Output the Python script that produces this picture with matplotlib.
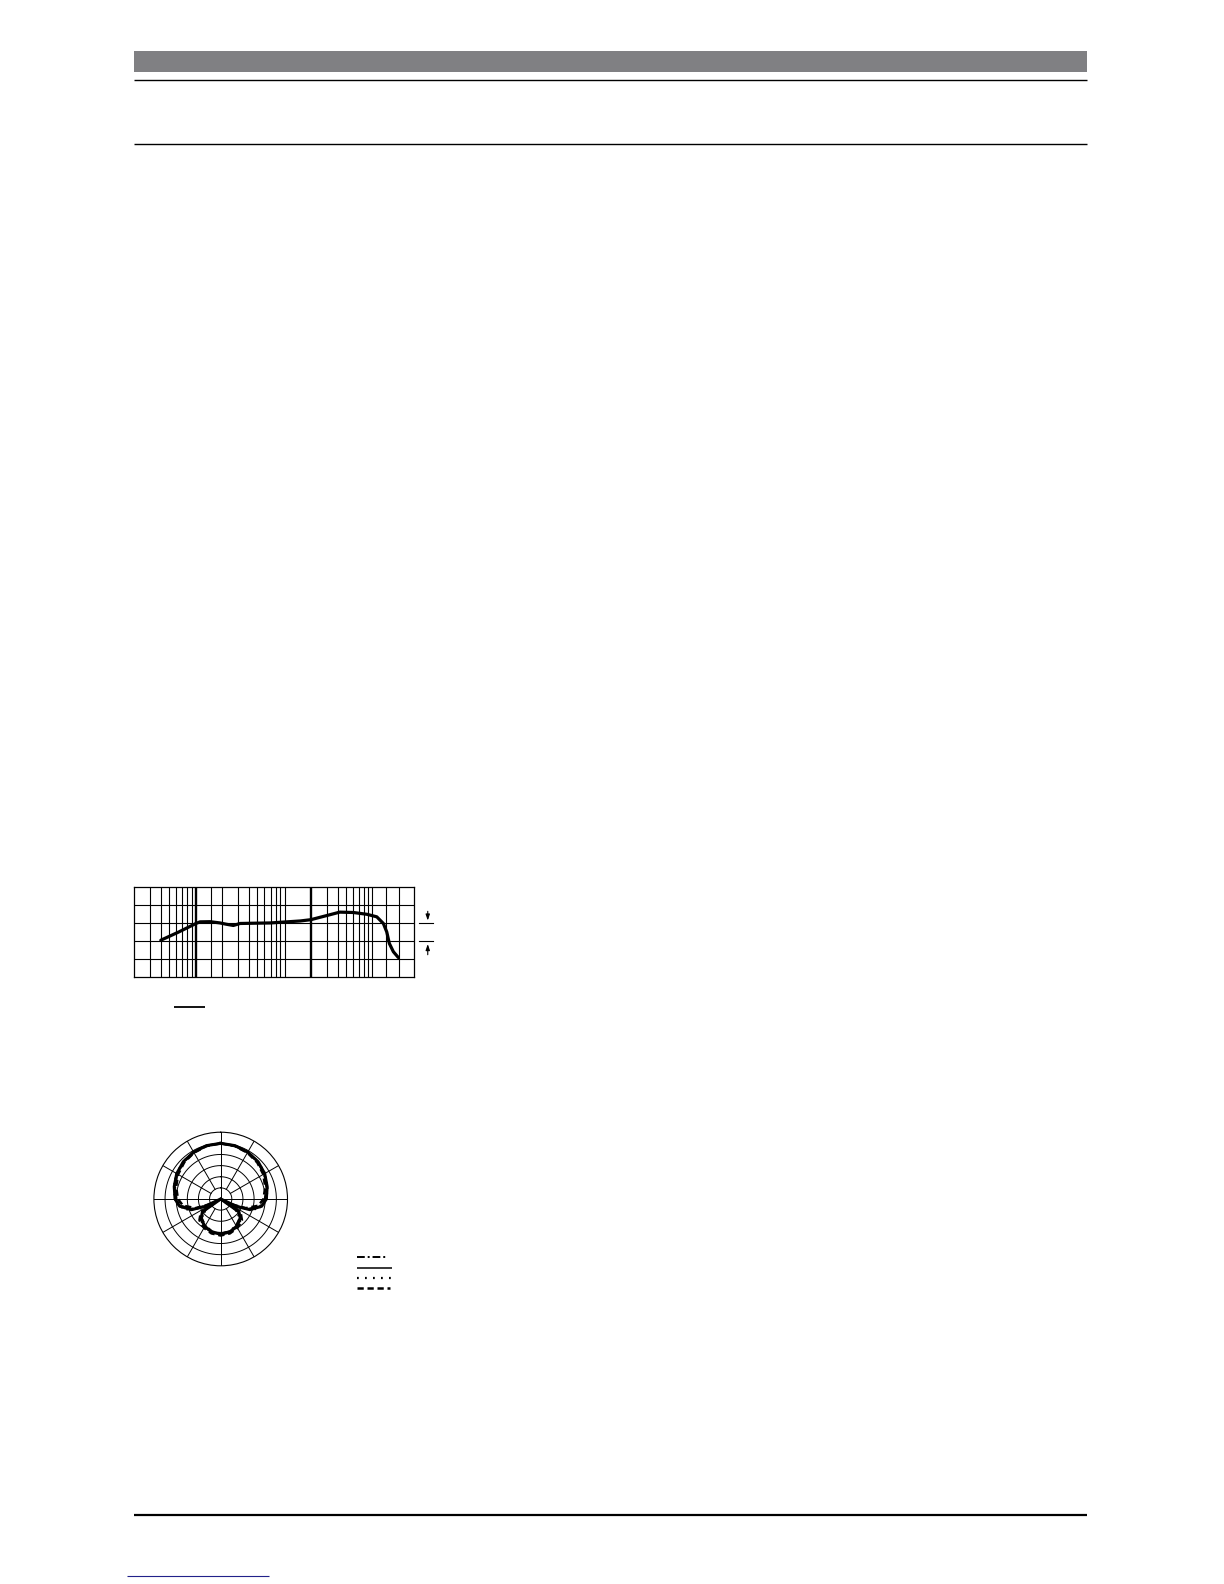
import matplotlib
matplotlib.use("Agg")
import matplotlib.pyplot as plt
import numpy as np
from matplotlib.lines import Line2D
from matplotlib.patches import Rectangle

W, H = 1224, 1584

# frequency response (Hz, dB)
freq_hz = [48.9, 69.2, 100, 107.7, 131.7, 161, 182, 210.7, 241, 326, 443, 617, 810,
           1000, 1380, 1794, 2360, 3098, 3780, 4316, 4620, 4868, 5280, 5831]
resp_db = [-4.7, -2.5, 0.0, 0.4, 0.45, 0.1, -0.25, -0.6, -0.05, 0.03, 0.1, 0.4, 0.65,
           1.0, 2.15, 3.1, 3.0, 2.5, 1.8, -0.05, -2.4, -5.6, -7.9, -9.5]

# chart grid (Hz) as printed
grid_thin = [39, 49, 58, 67, 75, 83, 91,
             134, 169, 233, 291, 342, 393, 452, 498, 542, 594,
             1380, 1715, 2048, 2352, 2627, 2894, 3150, 3455, 4580, 5914]
grid_thick = [100, 1000]
freq_lim = (28.5, 8045)
db_lim = (-15, 10)
db_grid = [-10, -5, 0, 5]

# polar pattern, dB relative to front, one half (symmetric)
pol_deg = [0, 15, 30, 45, 60, 75, 90, 100, 110, 115, 120, 125, 135, 150, 165, 180]
pol_dashdot = [0, -0.3, -0.8, -1.5, -2.5, -3.8, -5.2, -7.0, -12, -18, -24, -17, -13, -11.2, -10.0, -9.5]
pol_solid = [0, -0.2, -0.7, -1.3, -2.2, -3.4, -4.5, -6.3, -11, -17, -25, -15, -12.5, -10.8, -9.6, -9.2]
pol_dotted = [0, -0.2, -0.6, -1.2, -2.0, -3.2, -4.3, -6.0, -10, -16, -23, -16, -12, -10.5, -9.4, -9.0]
pol_dashed = [0, -0.4, -1.0, -1.8, -2.9, -4.3, -5.8, -7.8, -13, -19, -24, -14, -11.5, -10.0, -9.0, -8.6]
pol_rings = [-20, -15, -10, -5, 0]


def fx(px):
    return px / W


def fy(py):
    return 1 - py / H


def page_line(fig, x0, x1, y, lw, color="black", ls="-"):
    fig.add_artist(Line2D([fx(x0), fx(x1)], [fy(y), fy(y)], lw=lw, color=color, ls=ls,
                          solid_capstyle="butt", dash_capstyle="butt"))


def mirror(deg, vals):
    deg = np.array(deg, dtype=float)
    vals = np.array(vals, dtype=float)
    th = np.concatenate([deg, 360 - deg[-2::-1]])
    r = np.concatenate([vals, vals[-2::-1]])
    return np.deg2rad(th), r


fig = plt.figure(figsize=(W / 100, H / 100), dpi=100)

# page header / footer
fig.add_artist(Rectangle((fx(134), fy(71.7)), fx(1087) - fx(134), fy(51) - fy(71.7),
                         facecolor="#808083", edgecolor="none"))
page_line(fig, 134, 1087, 80.3, 1.0)
page_line(fig, 134, 1087, 144.3, 1.0)
page_line(fig, 134, 1087, 1514.7, 1.6)
page_line(fig, 127.3, 269, 1575.7, 0.8, color="#22228a")

# frequency response chart
ax = fig.add_axes([fx(134), fy(977.3), fx(414.3) - fx(134), fy(887.3) - fy(977.3)])
ax.set_xscale("log")
ax.set_xlim(*freq_lim)
ax.set_ylim(*db_lim)
for f in grid_thin:
    ax.axvline(f, color="black", lw=0.8)
for f in grid_thick:
    ax.axvline(f, color="black", lw=1.7)
for d in db_grid:
    ax.axhline(d, color="black", lw=0.8)
ax.plot(freq_hz, resp_db, color="black", lw=2.3, solid_capstyle="round", solid_joinstyle="round")
ax.set_xticks([])
ax.set_yticks([])
ax.xaxis.set_minor_locator(matplotlib.ticker.NullLocator())
for s in ax.spines.values():
    s.set_linewidth(0.9)

# 5 dB scale marker to the right
tr = matplotlib.transforms.blended_transform_factory(ax.transAxes, ax.transData)
for d in [0, -5]:
    ax.plot([1.016, 1.066], [d, d], color="black", lw=0.8, transform=tr, clip_on=False)
ax.annotate("", xy=(1.048, 0), xytext=(1.048, 4.1), xycoords=tr, textcoords=tr,
            arrowprops=dict(arrowstyle="-|>,head_length=0.35,head_width=0.12", color="black", lw=0.8))
ax.annotate("", xy=(1.048, -5), xytext=(1.048, -9.5), xycoords=tr, textcoords=tr,
            arrowprops=dict(arrowstyle="-|>,head_length=0.35,head_width=0.12", color="black", lw=0.8))
page_line(fig, 174, 205, 1007.3, 1.3)

# polar pattern
pax = fig.add_axes([fx(220.7 - 66.8), fy(1199 + 66.8), fx(133.6), fy(0) - fy(133.6)], projection="polar")
pax.set_theta_zero_location("N")
pax.set_theta_direction(-1)
pax.set_ylim(-25, 5)
pax.grid(False)
pax.set_xticks([])
pax.set_yticks([])
pax.spines["polar"].set_linewidth(0.8)
circ = np.linspace(0, 2 * np.pi, 361)
for r in pol_rings:
    pax.plot(circ, np.full_like(circ, r), color="black", lw=0.7)
for a in range(0, 360, 30):
    r0 = -25 if a % 90 == 0 else -20
    pax.plot([np.deg2rad(a)] * 2, [r0, 5], color="black", lw=0.7)

th, r = mirror(pol_deg, pol_dashdot)
pax.plot(th, r, color="black", lw=1.4, ls=(0, (4, 1.5, 1, 1.5)))
th, r = mirror(pol_deg, pol_solid)
pax.plot(th, r, color="black", lw=2.2)
th, r = mirror(pol_deg, pol_dotted)
pax.plot(th, r, color="black", lw=1.4, ls=(0, (0.8, 2)))
th, r = mirror(pol_deg, pol_dashed)
pax.plot(th, r, color="black", lw=1.8, ls=(0, (2.5, 1.5)))

# polar legend samples
page_line(fig, 356.7, 387.5, 1257.3, 1.4, ls=(0, (4, 1.5, 1, 1.5)))
page_line(fig, 356.7, 391.7, 1267.7, 1.1)
page_line(fig, 356.7, 391.7, 1278.3, 1.6, ls=(0, (0.8, 2.8)))
page_line(fig, 356.7, 390, 1288.3, 1.8, ls=(0, (2.5, 1.5)))

fig.savefig("out.png", dpi=100)
